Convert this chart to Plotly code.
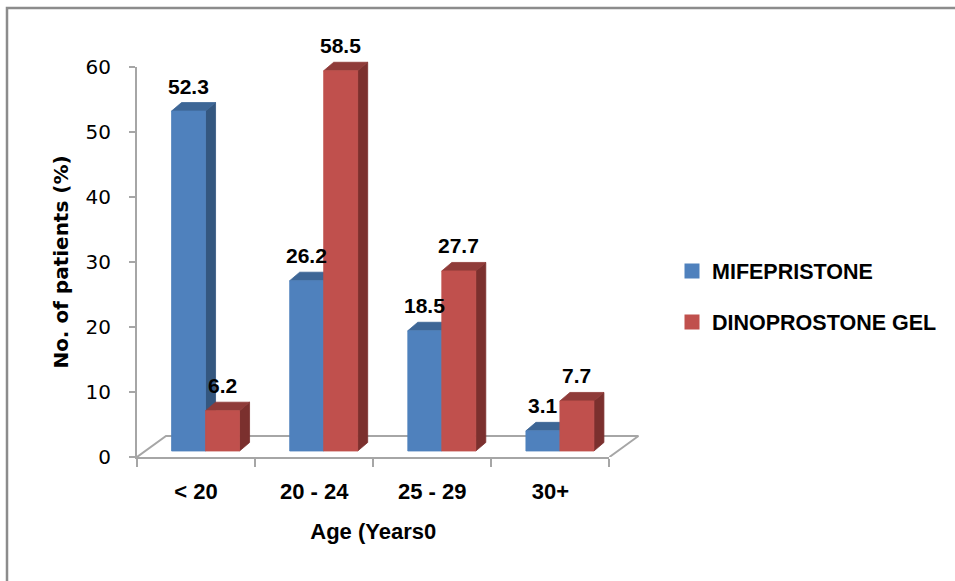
import plotly.graph_objects as go

# ---- data ----
age_groups = ["< 20", "20 - 24", "25 - 29", "30+"]
mifepristone = [52.3, 26.2, 18.5, 3.1]
dinoprostone_gel = [6.2, 58.5, 27.7, 7.7]
y_ticks = [0, 10, 20, 30, 40, 50, 60]

# ---- styling / pseudo-3D geometry (in axis units) ----
PX_X = 502 / 4.25          # pixels per category unit
PX_Y = 403 / 62            # pixels per value unit
FLOOR_DX, FLOOR_DY = 29 / PX_X, 21 / PX_Y        # floor depth
OFF_X, OFF_Y = 9.5 / PX_X, 6 / PX_Y               # bars sit slightly back on the floor
DEP_X, DEP_Y = 10 / PX_X, 8.5 / PX_Y              # bar depth
BAR_W = 34 / PX_X

series = [
    dict(name="MIFEPRISTONE", values=mifepristone, shift=-1,
         front="#4F81BD", side="#34577F", top="#3D6696"),
    dict(name="DINOPROSTONE GEL", values=dinoprostone_gel, shift=0,
         front="#C0504D", side="#7B302E", top="#8F3B39"),
]

fig = go.Figure()

# floor outline (back and side edges; front edge is the x axis line)
n = len(age_groups)
fig.add_trace(go.Scatter(
    x=[-0.5, -0.5 + FLOOR_DX, n - 0.5 + FLOOR_DX, n - 0.5],
    y=[0, FLOOR_DY, FLOOR_DY, 0],
    mode="lines", line=dict(color="#A6A6A6", width=2),
    hoverinfo="skip", showlegend=False))


def faces(vals, shift):
    fx, fy, sx, sy, tx, ty, cx, cy = [], [], [], [], [], [], [], []
    for i, v in enumerate(vals):
        x0 = i + OFF_X + shift * BAR_W
        x1 = x0 + BAR_W
        b = OFF_Y
        t = OFF_Y + v
        fx += [x0, x1, x1, x0, x0, None]
        fy += [b, b, t, t, b, None]
        sx += [x1, x1 + DEP_X, x1 + DEP_X, x1, x1, None]
        sy += [b, b + DEP_Y, t + DEP_Y, t, b, None]
        tx += [x0, x1, x1 + DEP_X, x0 + DEP_X, x0, None]
        ty += [t, t, t + DEP_Y, t + DEP_Y, t, None]
        cx.append((x0 + x1) / 2)
        cy.append(t)
    return (fx, fy), (sx, sy), (tx, ty), (cx, cy)


annotations = []
for s in series:
    front, side, top, centers = faces(s["values"], s["shift"])
    for (xs, ys), col in ((side, s["side"]), (top, s["top"]), (front, s["front"])):
        fig.add_trace(go.Scatter(
            x=xs, y=ys, mode="lines", fill="toself", fillcolor=col,
            line=dict(color=col, width=0.8), hoverinfo="skip", showlegend=False))
    for cx, cy, v in zip(centers[0], centers[1], s["values"]):
        annotations.append(dict(
            x=cx, y=cy, xref="x", yref="y", text=f"{v}", showarrow=False,
            yanchor="middle", yshift=25,
            font=dict(family="Liberation Sans", size=21, color="black", weight="bold")))

# legend entries
for k, s in enumerate(series):
    fig.add_trace(go.Scatter(
        x=[None], y=[None], xaxis="x2", yaxis="y2", mode="markers",
        marker=dict(symbol="square", size=15, color=s["front"]),
        name=s["name"], legendgroup=f"g{k}"))

fig.update_layout(
    width=955, height=581,
    margin=dict(l=137, r=316, t=54, b=124),
    paper_bgcolor="white", plot_bgcolor="rgba(0,0,0,0)",
    showlegend=True,
    xaxis=dict(range=[-0.5, n - 0.5 + 0.25], visible=False, fixedrange=True),
    yaxis=dict(range=[0, 62], visible=False, fixedrange=True),
    xaxis2=dict(
        domain=[0, 4 / 4.25], range=[-0.5, n - 0.5], anchor="y2",
        tickmode="array", tickvals=list(range(n)), ticktext=age_groups,
        ticks="", showgrid=False, zeroline=False,
        showline=True, linecolor="#A6A6A6", linewidth=2,
        ticklabelstandoff=14,
        tickfont=dict(family="Liberation Sans", size=22, color="black", weight="bold"),
        minor=dict(tickvals=[i - 0.5 for i in range(n + 1)], ticks="outside",
                   ticklen=8, tickwidth=2, tickcolor="#A6A6A6", showgrid=False),
        title=dict(text="Age (Years0", standoff=20,
                   font=dict(family="Liberation Sans", size=22, color="black", weight="bold")),
    ),
    yaxis2=dict(
        domain=[0, 60 / 62], range=[0, 60], anchor="x2",
        tickmode="array", tickvals=y_ticks,
        ticks="outside", ticklen=6, tickwidth=2, tickcolor="#A6A6A6",
        showline=True, linecolor="#A6A6A6", linewidth=2,
        showgrid=False, zeroline=False,
        ticklabelstandoff=14,
        tickfont=dict(family="DejaVu Sans", size=20, color="black"),
        title=dict(text="No. of patients (%)", standoff=12,
                   font=dict(family="DejaVu Sans", size=20, color="black", weight="bold")),
    ),
    legend=dict(
        xref="container", yref="container", x=672 / 955, y=1 - 296.5 / 581,
        xanchor="left", yanchor="middle", tracegroupgap=20,
        bgcolor="rgba(0,0,0,0)",
        font=dict(family="Liberation Sans", size=21.5, color="black", weight="bold"),
    ),
    annotations=annotations,
    shapes=[dict(
        type="path", xref="paper", yref="paper",
        path="M {l},{b} L {l},{t} L {r},{t}".format(
            l=(7 - 137) / 502, b=(457 - 581) / 403, t=(457 - 8) / 403, r=(955 - 137) / 502),
        line=dict(color="#8C8C8C", width=2.5))],
)

fig.write_html("out.html")
